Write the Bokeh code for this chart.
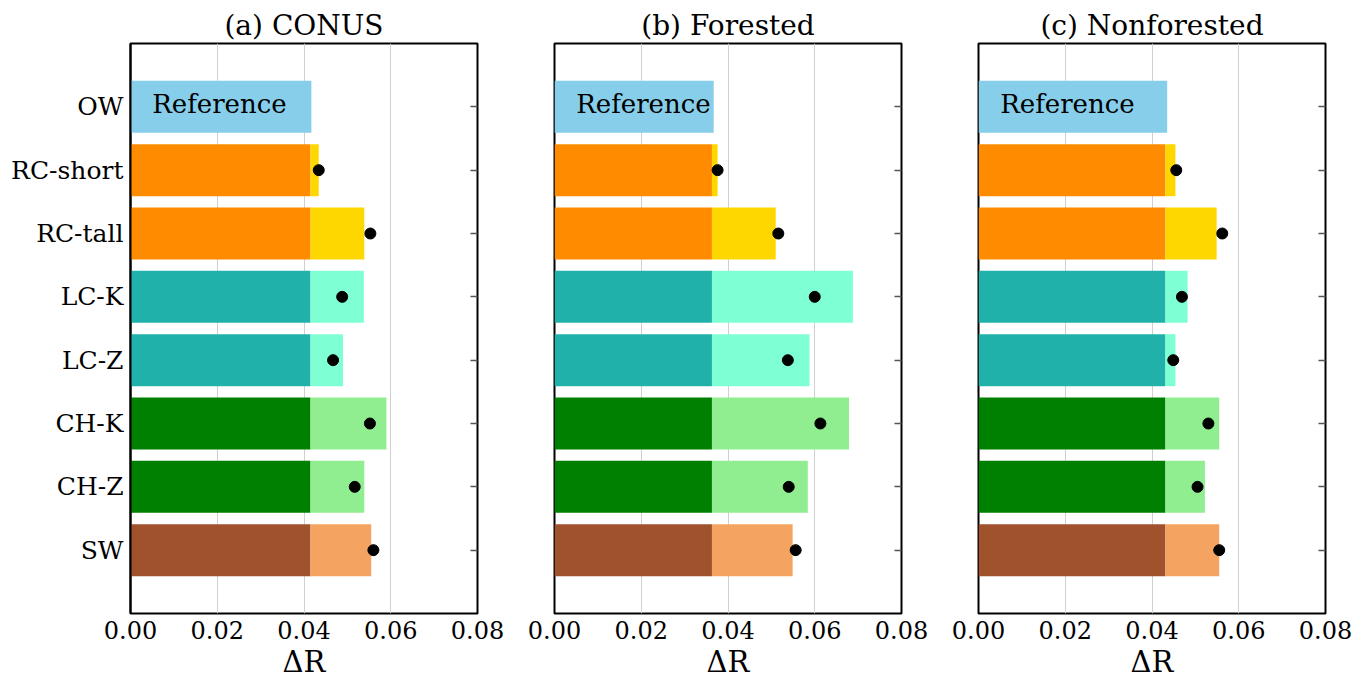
from bokeh.plotting import figure
from bokeh.layouts import row
from bokeh.models import FactorRange, Range1d, CategoricalAxis, FixedTicker, NumeralTickFormatter
from bokeh.core.properties import value
from bokeh.embed import file_html
from bokeh.resources import INLINE

# ---------------- data ----------------
categories = ["OW", "RC-short", "RC-tall", "LC-K", "LC-Z", "CH-K", "CH-Z", "SW"]
panel_titles = ["(a) CONUS", "(b) Forested", "(c) Nonforested"]
x_ticks = [0.0, 0.02, 0.04, 0.06, 0.08]

# reference (OW) value per panel
ow_value = [0.0417, 0.0367, 0.0435]
# dark base part of each experiment bar
base_value = [0.0415, 0.0363, 0.0431]

# bar end (light part) for RC-short..SW
conus_total = [0.0434, 0.0539, 0.0538, 0.0490, 0.0590, 0.0539, 0.0555]
forest_total = [0.0376, 0.0510, 0.0688, 0.0588, 0.0679, 0.0584, 0.0549]
nonforest_total = [0.0454, 0.0549, 0.0482, 0.0454, 0.0555, 0.0522, 0.0555]

# black dots for RC-short..SW
conus_dot = [0.0434, 0.0553, 0.0488, 0.0467, 0.0552, 0.0517, 0.0560]
forest_dot = [0.0376, 0.0516, 0.0600, 0.0538, 0.0613, 0.0540, 0.0556]
nonforest_dot = [0.0456, 0.0562, 0.0469, 0.0449, 0.0530, 0.0505, 0.0555]

totals = [conus_total, forest_total, nonforest_total]
dots = [conus_dot, forest_dot, nonforest_dot]

ref_color = "#87CEEB"
dark_colors = ["#FF8C00", "#FF8C00", "#20B2AA", "#20B2AA", "#008000", "#008000", "#A0522D"]
light_colors = ["#FFD700", "#FFD700", "#7FFFD4", "#7FFFD4", "#90EE90", "#90EE90", "#F4A460"]

FONT = "DejaVu Serif"
borders = [(130, 38), (39, 38), (39, 34)]

figs = []
for k in range(3):
    left_b, right_b = borders[k]
    p = figure(
        frame_width=347, frame_height=570,
        x_range=Range1d(0, 0.08),
        y_range=FactorRange(factors=categories[::-1], range_padding=0.5,
                            range_padding_units="absolute"),
        y_axis_location="left" if k == 0 else None,
        output_backend="svg", toolbar_location=None,
        min_border_left=left_b, min_border_right=right_b,
        min_border_top=43, min_border_bottom=64,
        title=panel_titles[k],
    )
    p.title.text_font = FONT
    p.title.text_font_size = "28px"
    p.title.text_font_style = "normal"
    p.title.text_color = "black"
    p.title.align = "center"
    p.title.standoff = 3
    p.title.offset = 0

    p.outline_line_color = "black"
    p.outline_line_width = 2
    p.outline_line_alpha = 1.0
    p.background_fill_color = "white"
    p.border_fill_color = "white"

    # x axis
    xa = p.xaxis[0]
    xa.ticker = FixedTicker(ticks=x_ticks)
    xa.formatter = NumeralTickFormatter(format="0.00")
    xa.major_tick_in = 0
    xa.major_tick_out = 0
    xa.minor_tick_in = 0
    xa.minor_tick_out = 0
    xa.axis_line_color = None
    xa.major_label_text_font = FONT
    xa.major_label_text_font_size = "24px"
    xa.major_label_text_color = "black"
    xa.major_label_standoff = 7
    xa.axis_label = "ΔR"
    xa.axis_label_text_font = FONT
    xa.axis_label_text_font_size = "29px"
    xa.axis_label_text_font_style = "normal"
    xa.axis_label_text_color = "black"
    xa.axis_label_standoff = 3

    p.xgrid.grid_line_color = "#d0d0d0"
    p.xgrid.grid_line_width = 1
    p.ygrid.grid_line_color = None

    if k == 0:
        ya = p.yaxis[0]
        ya.major_tick_in = 0
        ya.major_tick_out = 0
        ya.axis_line_color = "black"
        ya.axis_line_width = 2
        ya.major_label_text_font = FONT
        ya.major_label_text_font_size = "25px"
        ya.major_label_text_color = "black"
        ya.major_label_standoff = 7

    ra = CategoricalAxis()
    ra.major_tick_in = 7
    ra.major_tick_out = 0
    ra.major_tick_line_color = "#555555"
    ra.major_tick_line_width = 1.5
    ra.axis_line_color = None
    ra.major_label_text_font_size = "0px"
    ra.major_label_text_alpha = 0
    ra.major_label_standoff = 0
    p.add_layout(ra, "right")

    # reference bar
    p.hbar(y=[categories[0]], left=0, right=[ow_value[k]], height=0.82,
           fill_color=ref_color, line_color=None)
    # experiment bars
    exp = categories[1:]
    p.hbar(y=exp, left=0, right=[base_value[k]] * len(exp), height=0.82,
           fill_color=dark_colors, line_color=None)
    p.hbar(y=exp, left=[base_value[k]] * len(exp), right=totals[k], height=0.82,
           fill_color=light_colors, line_color=None)
    p.scatter(x=dots[k], y=exp, size=11, fill_color="black", line_color="black")

    p.text(x=[0.005], y=[categories[0]], text=["Reference"],
           text_font=value(FONT), text_font_size="26px",
           text_baseline="middle", text_align="left", text_color="black",
           y_offset=-3)

    figs.append(p)

layout = row(*figs)
open("out.html", "w").write(file_html(layout, INLINE))
